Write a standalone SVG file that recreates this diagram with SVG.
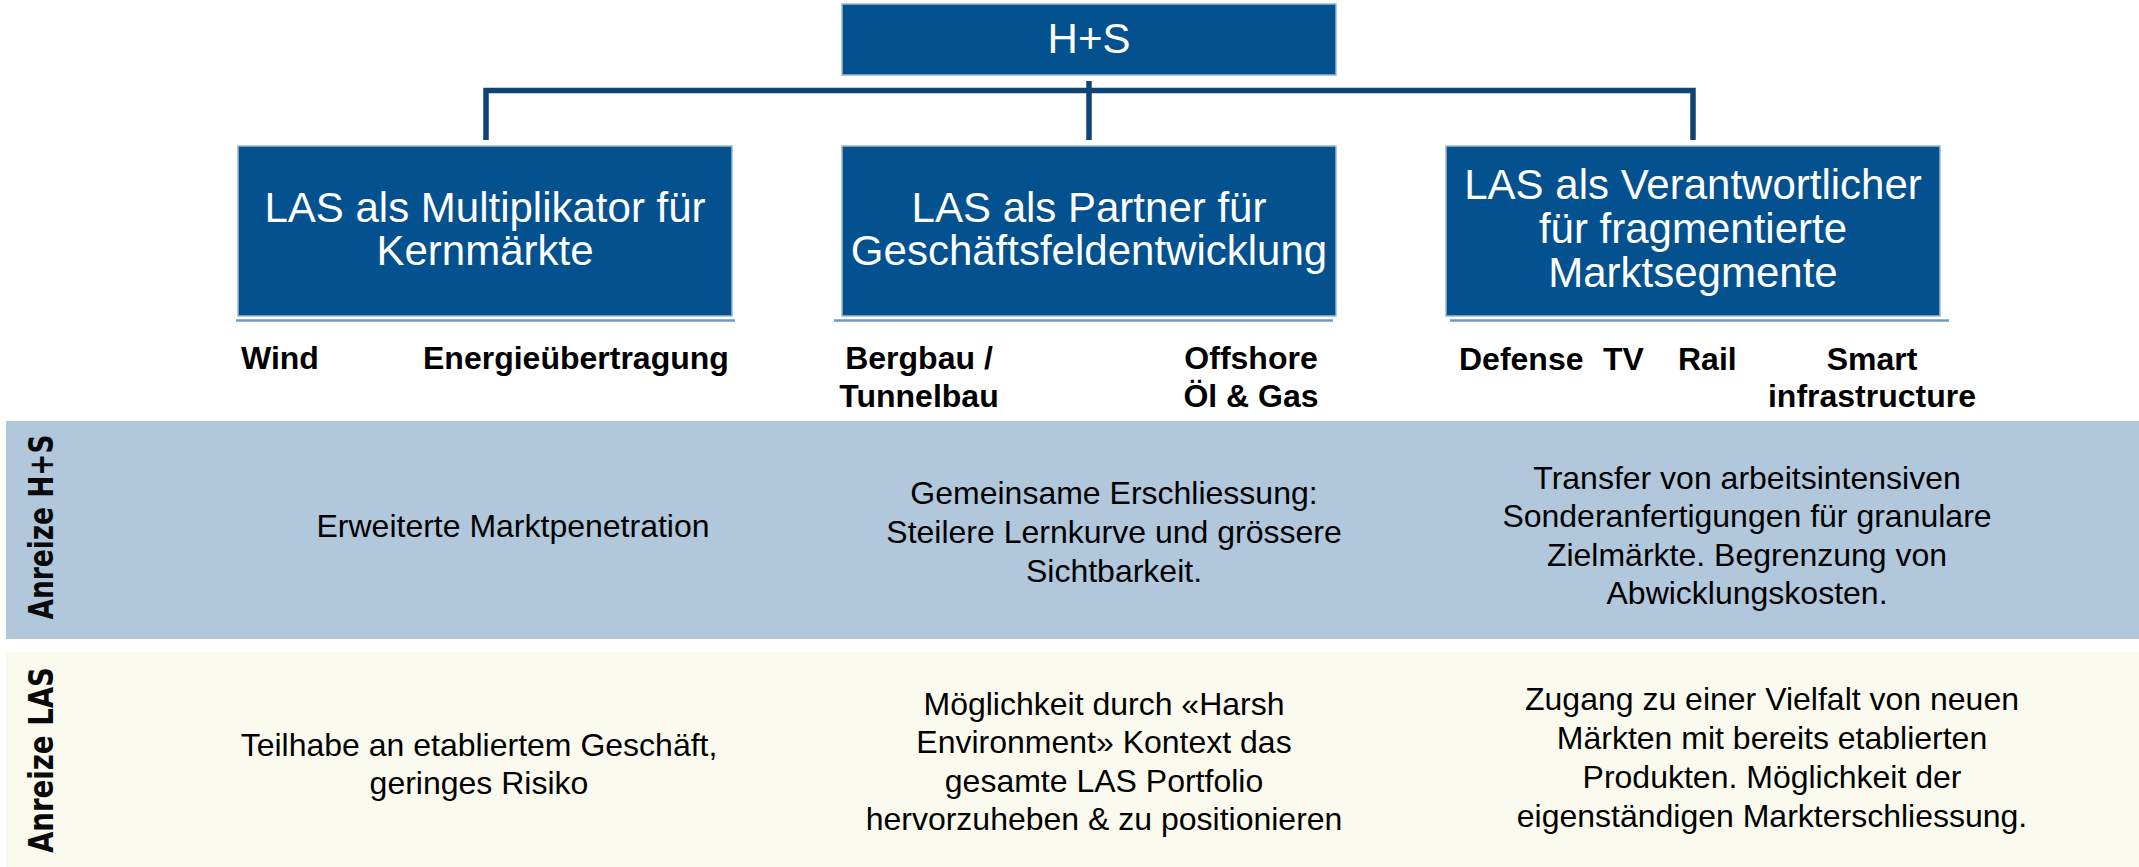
<svg xmlns="http://www.w3.org/2000/svg" width="2139" height="867" viewBox="0 0 2139 867">
<style>
.box{fill:#03528f;stroke:#9cb8d4;stroke-width:1.5}
.ul{stroke:#6d9ac6;stroke-width:2.5}
.bt{font-family:"Liberation Sans",Arial,sans-serif;font-size:42px;fill:#ffffff;text-anchor:middle}
.cat{font-family:"Liberation Sans",Arial,sans-serif;font-size:32px;font-weight:bold;fill:#000000}
.tx{font-family:"Liberation Sans",Arial,sans-serif;font-size:32px;fill:#000000;text-anchor:middle}
.vl{font-family:"DejaVu Sans","Liberation Sans",sans-serif;font-size:34px;font-weight:bold;fill:#0a0a0a;text-anchor:middle}
.conn{fill:none;stroke:#0d4475;stroke-width:5.5}
</style>
<rect width="2139" height="867" fill="#ffffff"/>
<g id="bands">
<rect x="6" y="421" width="2133" height="218" fill="#b0c7dc"/>
<rect x="6" y="652" width="2133" height="215" fill="#fafaef"/>
<text class="vl" transform="translate(52.5,527) rotate(-90)" textLength="185" lengthAdjust="spacingAndGlyphs">Anreize H+S</text>
<text class="vl" transform="translate(53,760) rotate(-90)" textLength="186" lengthAdjust="spacingAndGlyphs">Anreize LAS</text>
</g>
<g id="connectors">
<path class="conn" d="M486,140 V90.5 H1693 V140"/>
<path class="conn" d="M1089,81 V140"/>
</g>
<g id="node-hs">
<rect class="box" x="842" y="4" width="494" height="71"/>
<text class="bt" x="1089" y="53">H+S</text>
</g>
<g id="node-multiplikator">
<rect class="box" x="238" y="146" width="494" height="170"/>
<line class="ul" x1="236" y1="320.5" x2="735" y2="320.5"/>
<text class="bt" x="485" y="222">LAS als Multiplikator für</text>
<text class="bt" x="485" y="265">Kernmärkte</text>
<text class="cat" x="241" y="369">Wind</text>
<text class="cat" x="423" y="369">Energieübertragung</text>
</g>
<g id="node-partner">
<rect class="box" x="842" y="146" width="494" height="170"/>
<line class="ul" x1="834" y1="320.5" x2="1333" y2="320.5"/>
<text class="bt" x="1089" y="222">LAS als Partner für</text>
<text class="bt" x="1089" y="265">Geschäftsfeldentwicklung</text>
<text class="cat" x="919" y="369" text-anchor="middle">Bergbau /</text>
<text class="cat" x="919" y="407" text-anchor="middle">Tunnelbau</text>
<text class="cat" x="1251" y="369" text-anchor="middle">Offshore</text>
<text class="cat" x="1251" y="407" text-anchor="middle">Öl &amp; Gas</text>
</g>
<g id="node-verantwortlicher">
<rect class="box" x="1446" y="146" width="494" height="170"/>
<line class="ul" x1="1450" y1="320.5" x2="1949" y2="320.5"/>
<text class="bt" x="1693" y="199">LAS als Verantwortlicher</text>
<text class="bt" x="1693" y="243">für fragmentierte</text>
<text class="bt" x="1693" y="287">Marktsegmente</text>
<text class="cat" x="1459" y="370">Defense</text>
<text class="cat" x="1603" y="370">TV</text>
<text class="cat" x="1678" y="370">Rail</text>
<text class="cat" x="1872" y="370" text-anchor="middle">Smart</text>
<text class="cat" x="1872" y="407" text-anchor="middle">infrastructure</text>
</g>
<g id="texts-hs">
<text class="tx" x="513" y="537">Erweiterte Marktpenetration</text>
<text class="tx" x="1114" y="504">Gemeinsame Erschliessung:</text>
<text class="tx" x="1114" y="543">Steilere Lernkurve und grössere</text>
<text class="tx" x="1114" y="582">Sichtbarkeit.</text>
<text class="tx" x="1747" y="489">Transfer von arbeitsintensiven</text>
<text class="tx" x="1747" y="527">Sonderanfertigungen für granulare</text>
<text class="tx" x="1747" y="566">Zielmärkte. Begrenzung von</text>
<text class="tx" x="1747" y="604">Abwicklungskosten.</text>
</g>
<g id="texts-las">
<text class="tx" x="479" y="756">Teilhabe an etabliertem Geschäft,</text>
<text class="tx" x="479" y="794">geringes Risiko</text>
<text class="tx" x="1104" y="715">Möglichkeit durch «Harsh</text>
<text class="tx" x="1104" y="753">Environment» Kontext das</text>
<text class="tx" x="1104" y="792">gesamte LAS Portfolio</text>
<text class="tx" x="1104" y="830">hervorzuheben &amp; zu positionieren</text>
<text class="tx" x="1772" y="710">Zugang zu einer Vielfalt von neuen</text>
<text class="tx" x="1772" y="749">Märkten mit bereits etablierten</text>
<text class="tx" x="1772" y="788">Produkten. Möglichkeit der</text>
<text class="tx" x="1772" y="827">eigenständigen Markterschliessung.</text>
</g>
</svg>
